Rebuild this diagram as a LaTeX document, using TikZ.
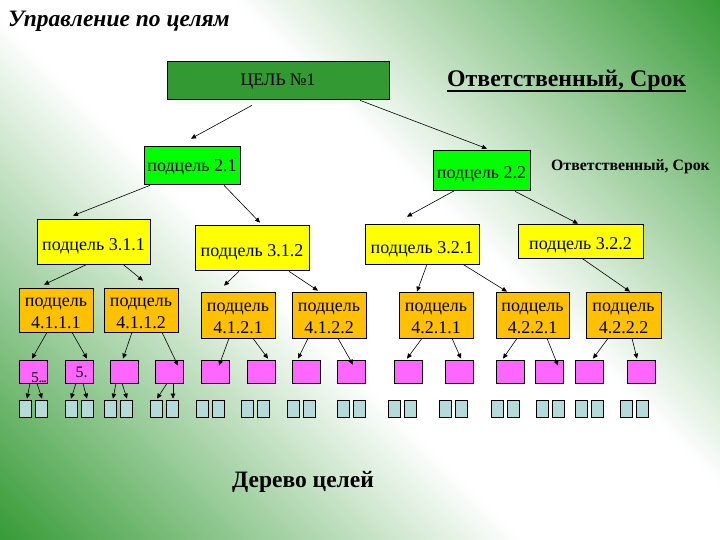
\documentclass[tikz,border=0pt]{standalone}
\usepackage{fontspec}
\setmainfont{Liberation Serif}
\usetikzlibrary{arrows.meta,calc}
\definecolor{bgG}{RGB}{51,153,51}
\definecolor{dkG}{RGB}{51,153,51}
\definecolor{brG}{RGB}{0,255,0}
\definecolor{yel}{RGB}{255,255,0}
\definecolor{org}{RGB}{255,192,0}
\definecolor{mag}{RGB}{255,102,255}
\definecolor{lbl}{RGB}{180,218,218}
\pgfdeclareverticalshading{bgshade}{100bp}{color(0bp)=(bgG); color(14bp)=(bgG); color(44bp)=(white); color(58bp)=(white); color(86bp)=(bgG); color(100bp)=(bgG)}
\begin{document}
\begin{tikzpicture}[x=1pt,y=-1pt,
  box/.style={draw=black, line width=0.7pt, inner sep=0pt, font=\fontsize{18}{21.6}\selectfont},
  th/.style={text height=#1, text depth=0pt},
  two/.style={align=center},
  sz/.style 2 args={minimum width=#1, minimum height=#2},
  arr/.style={line width=0.6pt, -{Triangle[length=5pt,width=4.5pt]}},
  mg/.style={draw, line width=0.7pt, fill=mag, minimum width=28.5pt, minimum height=23pt, inner sep=0pt},
  lbx/.style={draw, line width=0.7pt, fill=lbl, minimum width=12pt, minimum height=17pt, inner sep=0pt},
  txt/.style={anchor=base west, inner sep=0pt}]
\useasboundingbox (0,0) rectangle (720,540);
\shade[shading=bgshade, shading angle=-45] (0,0) rectangle (720,540);

% texts
\node[txt, font=\fontsize{23.5}{26}\selectfont\bfseries\itshape] (title) at (8,26.7) {Управление по целям};
\node[txt, font=\fontsize{23.8}{26}\selectfont\bfseries] (resp) at (447,87) {Ответственный, Срок};
\draw[line width=1.2pt] ($(resp.base west)+(0,4)$) -- ($(resp.base east)+(0,4)$);
\node[txt, font=\fontsize{15.8}{18}\selectfont\bfseries] (resp2) at (551,171) {Ответственный, Срок};
\node[txt, font=\fontsize{23.5}{26}\selectfont\bfseries] (tree) at (232,487) {Дерево целей};

% boxes
\node[box, fill=dkG, sz={222pt}{38pt}, th=11.6pt, font=\fontsize{17.5}{20}\selectfont] (c) at (278,80) {ЦЕЛЬ №1};
\node[box, fill=brG, sz={96pt}{38pt}, th=13pt] (s21) at (192,165) {подцель 2.1};
\node[box, fill=brG, sz={97pt}{40pt}, th=18pt] (s22) at (481.5,170) {подцель 2.2};
\node[box, fill=yel, sz={113pt}{45pt}, th=17pt] (s311) at (93.5,241.5) {подцель 3.1.1};
\node[box, fill=yel, sz={114pt}{45pt}, th=18pt] (s312) at (252,247.5) {подцель 3.1.2};
\node[box, fill=yel, sz={114pt}{40pt}, th=19pt] (s321) at (422,244) {подцель 3.2.1};
\node[box, fill=yel, sz={125pt}{34pt}, th=17.6pt] (s322) at (580.5,241) {подцель 3.2.2};
\node[box, two, fill=org, sz={74pt}{44pt}] (s4111) at (56,310) {\rule{0pt}{15pt}подцель\\4.1.1.1};
\node[box, two, fill=org, sz={74pt}{44pt}] (s4112) at (141,310) {\rule{0pt}{15pt}подцель\\4.1.1.2};
\node[box, two, fill=org, sz={74pt}{46pt}] (s4121) at (238,315) {\rule{0pt}{15pt}подцель\\4.1.2.1};
\node[box, two, fill=org, sz={74pt}{46pt}] (s4122) at (329,315) {\rule{0pt}{15pt}подцель\\4.1.2.2};
\node[box, two, fill=org, sz={74pt}{46pt}] (s4211) at (436,315) {\rule{0pt}{15pt}подцель\\4.2.1.1};
\node[box, two, fill=org, sz={73pt}{46pt}] (s4221) at (532.5,315) {\rule{0pt}{15pt}подцель\\4.2.2.1};
\node[box, two, fill=org, sz={75pt}{46pt}] (s4222) at (623.5,315) {\rule{0pt}{15pt}подцель\\4.2.2.2};

\foreach \xx [count=\i] in {19,65,110,155,201,247,292,337,394,445,496,535,575,627}
  \node[mg] (m\i) at (\xx+14.25,371.5) {};
\foreach \s [count=\i] in {19,65,104,150,196,241,287,337,388,439,491,536,575,620}{
  \node[lbx] (p\i) at (\s+6,408.5) {};
  \node[lbx] (q\i) at (\s+22.5,408.5) {};
}
\node[txt, font=\fontsize{15}{17}\selectfont] (t1) at ($(m1.south west)+(12.5,-1.3)$) {5\kern-0.3pt.\kern-1.4pt.\kern-1.4pt.};
\node[txt, font=\fontsize{16}{18}\selectfont] (t2) at ($(m2.south west)+(10.7,-5.5)$) {5.};

% connectors level 1-3
\draw[arr] ($(c.south)+(-26,6)$) -- ($(s21.north)+(-1,-7)$);
\draw[arr] ($(c.south)+(82,1)$) -- ($(s22.north)+(5.5,-1)$);
\draw[arr] ($(s21.south)+(-42,1)$) -- ($(s311.north)+(-20.5,-3)$);
\draw[arr] ($(s21.south)+(32,1)$) -- ($(s312.north)+(8,-2)$);
\draw[arr] ($(s22.south)+(-26.5,0)$) -- ($(s321.north)+(-15,-7)$);
\draw[arr] ($(s22.south)+(33.5,1)$) -- ($(s322.north)+(-2.5,0)$);
% level 3-4
\draw[arr] ($(s311.south)+(-6.5,0)$) -- ($(s4111.north)+(-12,-3)$);
\draw[arr] ($(s311.south)+(29.5,0)$) -- ($(s4112.north)+(2,-7)$);
\draw[arr] ($(s312.south)+(-13,1)$) -- ($(s4121.north)+(-14,-6)$);
\draw[arr] ($(s312.south)+(37,1)$) -- ($(s4122.north)+(-11,-1)$);
\draw[arr] ($(s321.south)+(5,0)$) -- ($(s4211.north)+(-19,0)$);
\draw[arr] ($(s321.south)+(41,0)$) -- ($(s4221.north)+(-25.5,0)$);
\draw[arr] ($(s322.south)+(1.5,0)$) -- ($(s4222.north)+(6.5,0)$);
% level 4-5
\draw[arr] ($(s4111.south)+(-9,0)$) -- ($(m1.north)+(-1.25,-1)$);
\draw[arr] ($(s4111.south)+(16,0)$) -- ($(m2.north)+(7.75,-1)$);
\draw[arr] ($(s4112.south)+(-9,0)$) -- ($(m3.north)+(-1.25,-1)$);
\draw[arr] ($(s4112.south)+(21,0)$) -- ($(m4.north)+(8.75,6)$);
\draw[arr] ($(s4121.south)+(-9,0)$) -- ($(m5.north)+(3.75,6)$);
\draw[arr] ($(s4121.south)+(15,0)$) -- ($(m6.north)+(6.75,-1)$);
\draw[arr] ($(s4122.south)+(-21,0)$) -- ($(m7.north)+(-8.25,-1)$);
\draw[arr] ($(s4122.south)+(9,0)$) -- ($(m8.north)+(1.75,5)$);
\draw[arr] ($(s4211.south)+(-14,0)$) -- ($(m9.north)+(-1.25,-1)$);
\draw[arr] ($(s4211.south)+(16,0)$) -- ($(m10.north)+(1.75,-1)$);
\draw[arr] ($(s4221.south)+(-15.5,0)$) -- ($(m11.north)+(-7.25,-1)$);
\draw[arr] ($(s4221.south)+(14.5,0)$) -- ($(m12.north)+(8.75,6)$);
\draw[arr] ($(s4222.south)+(-15.5,0)$) -- ($(m13.north)+(3.75,-1)$);
\draw[arr] ($(s4222.south)+(8.5,0)$) -- ($(m14.north)+(-4.25,-1)$);
% level 5-6
\draw[arr] ($(m1.south)+(-3.25,0)$) -- ($(p1.north)+(2,-1)$);
\draw[arr] ($(m1.south)+(3.75,0)$) -- ($(q1.north)+(0.5,-1)$);
\draw[arr] ($(m2.south)+(-3.25,0)$) -- ($(p2.north)+(0,-1)$);
\draw[arr] ($(m2.south)+(3.75,0)$) -- ($(q2.north)+(-0.5,-1)$);
\draw[arr] ($(m3.south)+(-8.25,0)$) -- ($(p3.north)+(3,-1)$);
\draw[arr] ($(m3.south)+(-2.25,0)$) -- ($(q3.north)+(0.5,-1)$);
\draw[arr] ($(m4.south)+(-2.25,0)$) -- ($(p4.north)+(1,-1)$);
\draw[arr] ($(m4.south)+(3.75,0)$) -- ($(q4.north)+(0.5,-1)$);
\end{tikzpicture}
\end{document}
